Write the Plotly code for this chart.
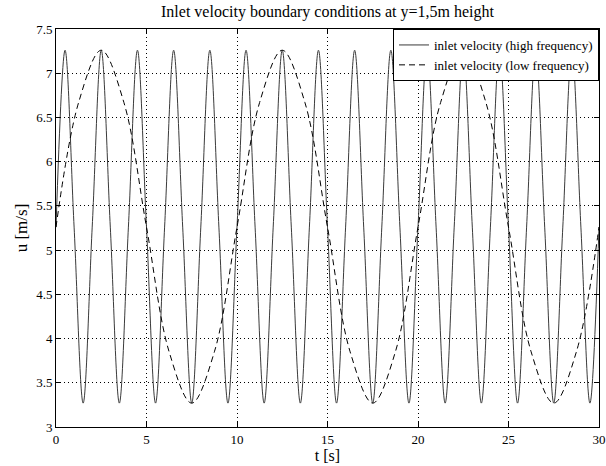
import plotly.graph_objects as go

t_high = [0, 0.5, 1, 1.5, 2, 2.5, 3, 3.5, 4, 4.5, 5, 5.5, 6, 6.5, 7, 7.5, 8, 8.5, 9, 9.5,
          10, 10.5, 11, 11.5, 12, 12.5, 13, 13.5, 14, 14.5, 15, 15.5, 16, 16.5, 17, 17.5,
          18, 18.5, 19, 19.5, 20, 20.5, 21, 21.5, 22, 22.5, 23, 23.5, 24, 24.5, 25, 25.5,
          26, 26.5, 27, 27.5, 28, 28.5, 29, 29.5, 30]
u_high = [5.26, 7.26, 5.26, 3.27, 5.26, 7.26, 5.26, 3.27, 5.26, 7.26, 5.26, 3.27,
          5.26, 7.26, 5.26, 3.27, 5.26, 7.26, 5.26, 3.27, 5.26, 7.26, 5.26, 3.27,
          5.26, 7.26, 5.26, 3.27, 5.26, 7.26, 5.26, 3.27, 5.26, 7.26, 5.26, 3.27,
          5.26, 7.26, 5.26, 3.27, 5.26, 7.26, 5.26, 3.27, 5.26, 7.26, 5.26, 3.27,
          5.26, 7.26, 5.26, 3.27, 5.26, 7.26, 5.26, 3.27, 5.26, 7.26, 5.26, 3.27, 5.26]

t_low = [0, 1.25, 2.5, 3.75, 5, 6.25, 7.5, 8.75, 10, 11.25, 12.5, 13.75, 15, 16.25,
         17.5, 18.75, 20, 21.25, 22.5, 23.75, 25, 26.25, 27.5, 28.75, 30]
u_low = [5.26, 6.67, 7.26, 6.67, 5.26, 3.85, 3.27, 3.85, 5.26, 6.67, 7.26, 6.67, 5.26,
         3.85, 3.27, 3.85, 5.26, 6.67, 7.26, 6.67, 5.26, 3.85, 3.27, 3.85, 5.26]

x_ticks = [0, 5, 10, 15, 20, 25, 30]
y_ticks = [3, 3.5, 4, 4.5, 5, 5.5, 6, 6.5, 7, 7.5]
y_tick_text = ["3", "3.5", "4", "4.5", "5", "5.5", "6", "6.5", "7", "7.5"]

FONT = "Liberation Serif"

fig = go.Figure()
fig.add_trace(go.Scatter(
    x=t_high, y=u_high, mode="lines", name="inlet velocity (high frequency)",
    line=dict(color="#3a3a3a", width=1, shape="spline", smoothing=1.0)))
fig.add_trace(go.Scatter(
    x=t_low, y=u_low, mode="lines", name="inlet velocity (low frequency)",
    line=dict(color="black", width=1, dash="6px,4px", shape="spline", smoothing=1.0)))

axis_common = dict(
    showline=True, linecolor="black", linewidth=1, mirror="allticks",
    ticks="inside", ticklen=5, tickcolor="black",
    showgrid=True, gridcolor="black", gridwidth=1, griddash="1px,3px",
    zeroline=False, tickfont=dict(family=FONT, size=13, color="black"),
    automargin=False, ticklabeloverflow="allow",
)

fig.update_xaxes(range=[0, 30], tickvals=x_ticks,
                 title=dict(text="t [s]", font=dict(family=FONT, size=16, color="black"), standoff=0),
                 **axis_common)
fig.update_yaxes(range=[3, 7.5], tickvals=y_ticks, ticktext=y_tick_text,
                 title=dict(text="u [m/s]", font=dict(family=FONT, size=17, color="black"), standoff=4),
                 **axis_common)

fig.update_layout(
    width=606, height=466,
    margin=dict(l=56, r=7, t=29, b=39, autoexpand=False),
    paper_bgcolor="white", plot_bgcolor="white",
    title=dict(text="Inlet velocity boundary conditions at y=1,5m height",
               font=dict(family=FONT, size=16, color="black"),
               xref="paper", x=0.5, xanchor="center", y=0.975, yanchor="middle"),
    legend=dict(x=1, y=1, xanchor="right", yanchor="top",
                bgcolor="white", bordercolor="black", borderwidth=1,
                font=dict(family=FONT, size=13, color="black"),
                tracegroupgap=0, itemwidth=30),
    showlegend=True,
)

# remove the browser's default 8px body margin so the figure sits at the page origin
fig.write_html("out.html",
               config={"displayModeBar": False},
               post_script="document.body.style.margin='0';document.body.style.overflow='hidden';")
